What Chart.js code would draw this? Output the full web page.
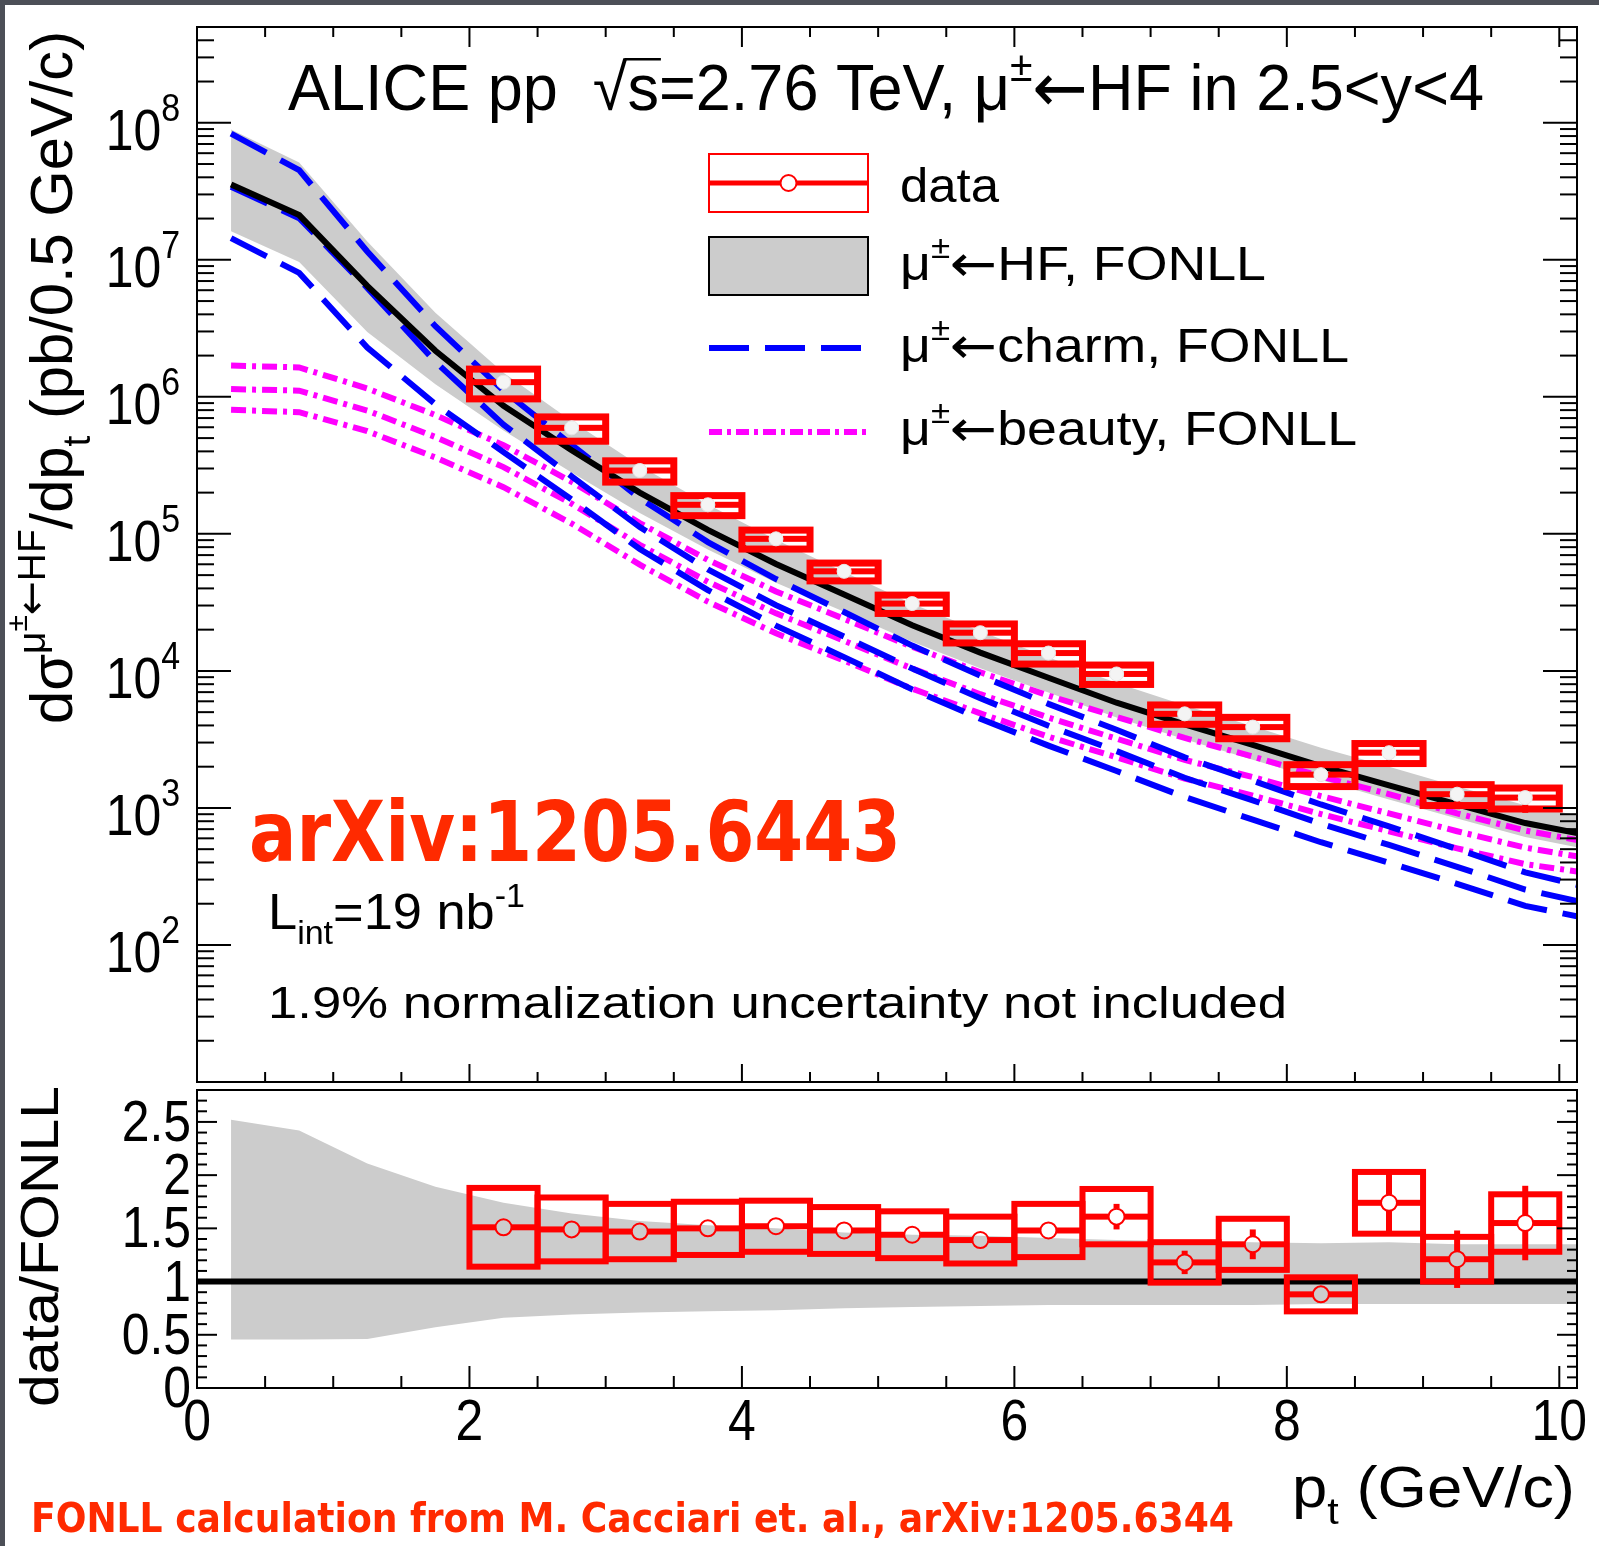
<!DOCTYPE html>
<html>
<head>
<meta charset="utf-8">
<script src="https://cdn.jsdelivr.net/npm/chart.js@4.4.1/dist/chart.umd.min.js"></script>
<style>
  body { margin: 0; background: #fff; }
  #page { position: relative; width: 1599px; height: 1546px; overflow: hidden; background: #fff; }
  canvas { position: absolute; left: 0; }
  .edge { position: absolute; background: #4c4f57; }
</style>
</head>
<body>
<div id="page">
  <canvas id="mainChart" width="1599" height="1090" style="top:0;width:1599px;height:1090px"></canvas>
  <canvas id="ratioChart" width="1599" height="466" style="top:1080px;width:1599px;height:466px"></canvas>
  <div class="edge" style="left:0;top:0;width:1599px;height:5px"></div>
  <div class="edge" style="left:0;top:0;width:5px;height:1546px"></div>
</div>
<script>
// FONLL curves at these pt values
const ptGrid = [0.25, 0.75, 1.25, 1.75, 2.25, 2.75, 3.25, 3.75, 4.25, 4.75, 5.25, 5.75, 6.25, 6.75, 7.25, 7.75, 8.25, 8.75, 9.25, 9.75, 10.13];
const hfCentral = [3.55e7, 2.12e7, 6.46e6, 2.17e6, 8.61e5, 4.07e5, 2.0e5, 1.07e5, 6.03e4, 3.61e4, 2.15e4, 1.36e4, 8.91e3, 5.86e3, 4.07e3, 2.88e3, 2.02e3, 1.46e3, 1.06e3, 776, 655];
const bandRatioHi = [2.52, 2.42, 2.11, 1.89, 1.74, 1.64, 1.57, 1.53, 1.50, 1.46, 1.44, 1.43, 1.41, 1.39, 1.38, 1.37, 1.36, 1.37, 1.35, 1.35, 1.35];
const bandRatioLo = [0.455, 0.455, 0.46, 0.57, 0.66, 0.69, 0.71, 0.72, 0.73, 0.75, 0.76, 0.77, 0.78, 0.78, 0.78, 0.78, 0.79, 0.79, 0.79, 0.79, 0.79];
const charmUp = [8.32e7, 4.51e7, 1.15e7, 3.28e6, 1.11e6, 4.47e5, 1.82e5, 8.71e4, 4.68e4, 2.69e4, 1.53e4, 9.23e3, 5.75e3, 3.72e3, 2.34e3, 1.58e3, 1.06e3, 733, 501, 339, 275];
const charmMid = [3.41e7, 2.01e7, 6.24e6, 1.80e6, 6.27e5, 2.63e5, 1.12e5, 5.5e4, 3.02e4, 1.78e4, 1.04e4, 6.31e3, 3.98e3, 2.60e3, 1.66e3, 1.135e3, 767, 537, 372, 254, 209];
const charmLow = [1.44e7, 8.02e6, 2.29e6, 8.83e5, 3.95e5, 1.78e5, 7.76e4, 3.89e4, 2.14e4, 1.26e4, 7.33e3, 4.47e3, 2.85e3, 1.86e3, 1.20e3, 822, 562, 398, 279, 193, 162];
const beautyUp = [1.69e6, 1.64e6, 1.15e6, 7.36e5, 4.44e5, 2.40e5, 1.20e5, 6.46e4, 3.80e4, 2.40e4, 1.50e4, 9.77e3, 6.61e3, 4.62e3, 3.24e3, 2.37e3, 1.70e3, 1.26e3, 912, 684, 583];
const beautyMid = [1.14e6, 1.11e6, 7.94e5, 5.09e5, 3.07e5, 1.66e5, 8.32e4, 4.47e4, 2.63e4, 1.66e4, 1.04e4, 6.76e3, 4.57e3, 3.20e3, 2.24e3, 1.68e3, 1.22e3, 912, 676, 513, 443];
const beautyLow = [8.04e5, 7.73e5, 5.62e5, 3.61e5, 2.19e5, 1.19e5, 5.96e4, 3.20e4, 1.88e4, 1.19e4, 7.41e3, 4.90e3, 3.31e3, 2.34e3, 1.64e3, 1.23e3, 902, 676, 507, 389, 344];

// measured points
const binCenters = [2.25, 2.75, 3.25, 3.75, 4.25, 4.75, 5.25, 5.75, 6.25, 6.75, 7.25, 7.75, 8.25, 8.75, 9.25, 9.75];
const binHalfWidth = 0.25;
const dataXsec = [1.28e6, 5.94e5, 2.90e5, 1.63e5, 9.2e4, 5.33e4, 3.1e4, 1.9e4, 1.35e4, 9.5e3, 4.86e3, 3.89e3, 1.75e3, 2.53e3, 1.26e3, 1.19e3];
const ratioVal = [1.51, 1.49, 1.47, 1.50, 1.52, 1.48, 1.44, 1.39, 1.48, 1.61, 1.18, 1.35, 0.88, 1.74, 1.21, 1.55];
const ratioSyst = [0.37, 0.30, 0.26, 0.25, 0.24, 0.22, 0.22, 0.22, 0.25, 0.26, 0.19, 0.24, 0.16, 0.29, 0.21, 0.27];
const ratioStat = [0.02, 0.02, 0.02, 0.02, 0.02, 0.02, 0.02, 0.02, 0.03, 0.12, 0.11, 0.14, 0.05, 0.29, 0.27, 0.35];

// ticks / labels
const decadeLabels = [2, 3, 4, 5, 6, 7, 8];
const xTickLabels = [0, 2, 4, 6, 8, 10];
const ratioTickLabels = ['0', '0.5', '1', '1.5', '2', '2.5'];

const RED = '#ff0000', BLUE = '#0000ff', MAGENTA = '#ff00ff', GRAY = '#cccccc', NOTE = '#ff2a00';
const SANS = '"Liberation Sans", Arial, Helvetica, sans-serif';
const ARROW = '"DejaVu Sans", sans-serif';
const COMIC = '"DejaVu Sans", sans-serif';
const RATIO_TOP = 1080;

const xy = arr => ptGrid.map((x, i) => ({ x, y: arr[i] }));

// text with super/subscripts, optionally squeezed to a given width
function richText(ctx, segs, x, y, o) {
  const size = o.size, wt = o.weight || 'normal';
  const scaleOf = l => l === 0 ? 1 : (Math.abs(l) === 1 ? (o.supScale || 0.65) : 0.5);
  const raise = l => l === 0 ? 0 : l === 1 ? -(o.supRaise || 0.45) * size : l === 2 ? -0.75 * size : 0.3 * size;
  let w = 0;
  const parts = segs.map(s => {
    const seg = typeof s === 'string' ? { t: s, l: 0 } : s;
    const l = seg.l || 0;
    const fs = size * scaleOf(l) * (seg.k || 1);
    const fam = seg.f || o.family || SANS;
    ctx.font = wt + ' ' + fs + 'px ' + fam;
    const m = ctx.measureText(seg.t).width;
    const p = { t: seg.t, fs, fam, dy: raise(l) + (seg.dy || 0) * size, x: w, w: m, over: seg.over };
    w += m;
    return p;
  });
  const sx = o.width ? o.width / w : (o.sx || 1);
  ctx.save();
  ctx.translate(x, y);
  if (o.rotate) ctx.rotate(-Math.PI / 2);
  ctx.scale(sx, 1);
  const x0 = o.align === 'right' ? -w : o.align === 'center' ? -w / 2 : 0;
  ctx.fillStyle = o.color || '#000';
  ctx.textBaseline = 'alphabetic';
  ctx.textAlign = 'left';
  parts.forEach(p => {
    ctx.font = wt + ' ' + p.fs + 'px ' + p.fam;
    ctx.fillText(p.t, x0 + p.x, p.dy);
    if (p.over) ctx.fillRect(x0 + p.x - 3, p.dy - p.fs * 0.8, p.w + 5, 2.5);
  });
  ctx.restore();
}

// "mu^{+-} <- " prefix used in several labels
const muArrow = (l) => [
  { t: 'μ', l: l },
  { t: '±', l: l + 1 },
  { t: '←', l: l, f: ARROW, k: 1.05, dy: l === 0 ? 0.02 : 0 }
];

function line(ctx, x1, y1, x2, y2) {
  ctx.beginPath(); ctx.moveTo(x1, y1); ctx.lineTo(x2, y2); ctx.stroke();
}

// systematic boxes + stat bars, leaving a hole for the open marker
function drawDataBoxes(chart, vals, rel, boxLw, barLw, r) {
  const ctx = chart.ctx, xs = chart.scales.x, ys = chart.scales.y, ca = chart.chartArea;
  ctx.save();
  ctx.beginPath();
  ctx.rect(ca.left, ca.top, ca.right - ca.left, ca.bottom - ca.top);
  ctx.clip();
  ctx.strokeStyle = RED;
  binCenters.forEach((c, i) => {
    const v = vals[i];
    const s = rel ? v * ratioSyst[i] / ratioVal[i] : ratioSyst[i];
    const st = rel ? v * ratioStat[i] / ratioVal[i] : ratioStat[i];
    const x0 = xs.getPixelForValue(c - binHalfWidth), x1 = xs.getPixelForValue(c + binHalfWidth);
    const xc = xs.getPixelForValue(c), yc = ys.getPixelForValue(v);
    const yHi = ys.getPixelForValue(v + s), yLo = ys.getPixelForValue(v - s);
    ctx.lineWidth = boxLw;
    ctx.strokeRect(x0, yHi, x1 - x0, yLo - yHi);
    ctx.lineWidth = barLw;
    line(ctx, x0, yc, xc - r, yc);
    line(ctx, xc + r, yc, x1, yc);
    const sHi = ys.getPixelForValue(v + st), sLo = ys.getPixelForValue(v - st);
    if (yc - sHi > r) line(ctx, xc, sHi, xc, yc - r);
    if (sLo - yc > r) line(ctx, xc, yc + r, xc, sLo);
  });
  ctx.restore();
}

const mainPlugin = {
  id: 'mainDecor',
  beforeDatasetDraw(chart, args) {
    if (chart.data.datasets[args.index].id === 'data') drawDataBoxes(chart, dataXsec, true, 7, 6, 7);
  },
  afterDraw(chart) {
    const ctx = chart.ctx, ca = chart.chartArea, xs = chart.scales.x, ys = chart.scales.y;
    ctx.save();
    ctx.strokeStyle = '#000';
    ctx.lineWidth = 2;
    ctx.strokeRect(ca.left, ca.top, ca.right - ca.left, ca.bottom - ca.top);
    for (let k = 0; k <= 20; k++) {
      const px = xs.getPixelForValue(k / 2);
      const major = k % 4 === 0;
      line(ctx, px, ca.bottom, px, ca.bottom - (major ? 18 : 10));
      line(ctx, px, ca.top, px, ca.top + (major ? 20 : 10));
    }
    for (let d = 1; d <= 8; d++) {
      for (let m = 1; m <= 9; m++) {
        const v = m * Math.pow(10, d);
        if (v < ys.min || v > ys.max) continue;
        const py = ys.getPixelForValue(v);
        const L = m === 1 ? 34 : 17;
        line(ctx, ca.left, py, ca.left + L, py);
        line(ctx, ca.right, py, ca.right - L, py);
      }
    }
    decadeLabels.forEach(n => {
      const py = ys.getPixelForValue(Math.pow(10, n));
      richText(ctx, ['10', { t: String(n), l: 1 }], 180, py + 27, { size: 58, sx: 0.86, align: 'right', supRaise: 0.5, supScale: 0.68 });
    });
    richText(ctx, ['dσ'].concat(muArrow(1), [{ t: 'HF', l: 1 }, '/dp', { t: 't', l: -1 }, ' (pb/0.5 GeV/c)']),
      72, 724, { size: 60, rotate: true, width: 693 });

    richText(ctx, ['ALICE pp  ', '√', { t: 's', over: true }, '=2.76 TeV, '].concat(muArrow(0), ['HF in 2.5<y<4']),
      288, 110, { size: 65, width: 1196 });

    // legend
    const lx0 = 709, lx1 = 868, lxc = (lx0 + lx1) / 2;
    ctx.strokeStyle = RED; ctx.lineWidth = 2;
    ctx.strokeRect(lx0, 154, lx1 - lx0, 58);
    ctx.lineWidth = 5;
    line(ctx, lx0, 183, lxc - 8, 183);
    line(ctx, lxc + 8, 183, lx1, 183);
    ctx.lineWidth = 2;
    ctx.beginPath(); ctx.arc(lxc, 183, 8, 0, 2 * Math.PI); ctx.stroke();
    ctx.fillStyle = GRAY;
    ctx.fillRect(lx0, 237, lx1 - lx0, 58);
    ctx.strokeStyle = '#000'; ctx.lineWidth = 2;
    ctx.strokeRect(lx0, 237, lx1 - lx0, 58);
    ctx.lineWidth = 6;
    ctx.strokeStyle = BLUE; ctx.setLineDash([40, 16]);
    line(ctx, lx0, 348, lx1, 348);
    ctx.strokeStyle = MAGENTA; ctx.setLineDash([13, 5, 4, 5]);
    line(ctx, lx0, 432, lx1, 432);
    ctx.setLineDash([]);
    richText(ctx, ['data'], 900, 202, { size: 48, width: 99 });
    richText(ctx, muArrow(0).concat(['HF, FONLL']), 900, 280, { size: 48, width: 366 });
    richText(ctx, muArrow(0).concat(['charm, FONLL']), 900, 362, { size: 48, width: 449 });
    richText(ctx, muArrow(0).concat(['beauty, FONLL']), 900, 445, { size: 48, width: 457 });

    richText(ctx, ['arXiv:1205.6443'], 249, 861, { size: 84, family: COMIC, weight: 'bold', color: NOTE, width: 652 });
    richText(ctx, ['L', { t: 'int', l: -1 }, '=19 nb', { t: '-1', l: 1 }], 268, 929, { size: 50, width: 257 });
    richText(ctx, ['1.9% normalization uncertainty not included'], 268, 1018, { size: 45, width: 1019 });
    ctx.restore();
  }
};

const ratioPlugin = {
  id: 'ratioDecor',
  beforeDatasetDraw(chart, args) {
    if (chart.data.datasets[args.index].id === 'data') drawDataBoxes(chart, ratioVal, false, 6, 6, 8);
  },
  afterDraw(chart) {
    const ctx = chart.ctx, ca = chart.chartArea, xs = chart.scales.x, ys = chart.scales.y;
    ctx.save();
    ctx.strokeStyle = '#000';
    ctx.lineWidth = 2;
    ctx.strokeRect(ca.left, ca.top, ca.right - ca.left, ca.bottom - ca.top);
    for (let k = 0; k <= 20; k++) {
      const px = xs.getPixelForValue(k / 2);
      line(ctx, px, ca.bottom, px, ca.bottom - (k % 4 === 0 ? 22 : 12));
    }
    for (let k = 0; k <= 28; k++) {
      const py = ys.getPixelForValue(k / 10);
      const L = k % 5 === 0 ? 20 : 10;
      line(ctx, ca.left, py, ca.left + L, py);
      line(ctx, ca.right, py, ca.right - L, py);
    }
    ratioTickLabels.forEach(t => {
      const py = ys.getPixelForValue(parseFloat(t));
      richText(ctx, [t], 191, py + 19, { size: 58, sx: 0.86, align: 'right' });
    });
    xTickLabels.forEach(v => {
      richText(ctx, [String(v)], xs.getPixelForValue(v), 1440 - RATIO_TOP, { size: 58, sx: 0.86, align: 'center' });
    });
    richText(ctx, ['p', { t: 't', l: -1 }, ' (GeV/c)'], 1292, 1507 - RATIO_TOP, { size: 58, width: 283 });
    richText(ctx, ['data/FONLL'], 58, 1407 - RATIO_TOP, { size: 54, rotate: true, width: 321 });
    richText(ctx, ['FONLL calculation from M. Cacciari et. al., arXiv:1205.6344'], 31, 1532 - RATIO_TOP,
      { size: 40, family: COMIC, weight: 'bold', color: NOTE, width: 1203 });
    ctx.restore();
  }
};

const curve = (arr, color, dash, order) => ({
  data: xy(arr), borderColor: color, borderWidth: 6, borderDash: dash, pointRadius: 0, fill: false, order
});

const commonOptions = {
  responsive: false,
  animation: false,
  events: [],
  plugins: { legend: { display: false }, tooltip: { enabled: false } }
};

new Chart(document.getElementById('mainChart'), {
  type: 'line',
  data: {
    datasets: [
      { id: 'data', data: binCenters.map((x, i) => ({ x, y: dataXsec[i] })), showLine: false,
        pointRadius: 7, pointBorderWidth: 1, pointBorderColor: '#e6e6e6', pointBackgroundColor: '#f4f4f4', order: 0 },
      curve(hfCentral, '#000', [], 1),
      curve(charmUp, BLUE, [40, 16], 2),
      curve(charmMid, BLUE, [40, 16], 2),
      curve(charmLow, BLUE, [40, 16], 2),
      curve(beautyUp, MAGENTA, [15, 6, 4, 6], 3),
      curve(beautyMid, MAGENTA, [15, 6, 4, 6], 3),
      curve(beautyLow, MAGENTA, [15, 6, 4, 6], 3),
      { data: xy(hfCentral.map((v, i) => v * bandRatioHi[i])), borderWidth: 0, pointRadius: 0,
        backgroundColor: GRAY, fill: '+1', order: 4 },
      { data: xy(hfCentral.map((v, i) => v * bandRatioLo[i])), borderWidth: 0, pointRadius: 0, fill: false, order: 5 }
    ]
  },
  options: Object.assign({}, commonOptions, {
    layout: { padding: { left: 197, right: 22, top: 27, bottom: 3 } },
    scales: {
      x: { type: 'linear', min: 0, max: 10.13, display: false },
      y: { type: 'logarithmic', min: 10, max: 5e8, display: false }
    }
  }),
  plugins: [mainPlugin]
});

new Chart(document.getElementById('ratioChart'), {
  type: 'line',
  data: {
    datasets: [
      { id: 'data', data: binCenters.map((x, i) => ({ x, y: ratioVal[i] })), showLine: false,
        pointRadius: 8, pointBorderWidth: 2, pointBorderColor: RED, pointBackgroundColor: 'rgba(0,0,0,0)', order: 0 },
      { data: [{ x: 0, y: 1 }, { x: 10.13, y: 1 }], borderColor: '#000', borderWidth: 6, pointRadius: 0, fill: false, order: 1 },
      { data: xy(bandRatioHi), borderWidth: 0, pointRadius: 0, backgroundColor: GRAY, fill: '+1', order: 2 },
      { data: xy(bandRatioLo), borderWidth: 0, pointRadius: 0, fill: false, order: 3 }
    ]
  },
  options: Object.assign({}, commonOptions, {
    layout: { padding: { left: 197, right: 22, top: 10, bottom: 158 } },
    scales: {
      x: { type: 'linear', min: 0, max: 10.13, display: false },
      y: { type: 'linear', min: 0, max: 2.8, display: false }
    }
  }),
  plugins: [ratioPlugin]
});
</script>
</body>
</html>
